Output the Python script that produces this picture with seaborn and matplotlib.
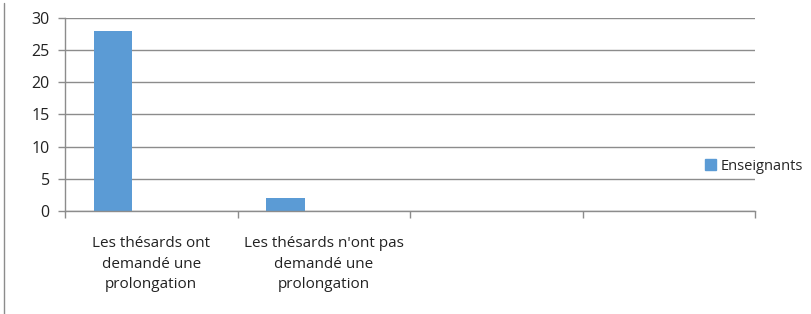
import pandas as pd
import numpy as np
import matplotlib.pyplot as plt
import seaborn as sns

# Données
categories = ["Les thésards ont\ndemandé une\nprolongation",
              "Les thésards n'ont pas\ndemandé une\nprolongation",
              "", " "]
values = [28, 2]
series_name = "Enseignants"
# Excel réserve la place de trois séries, seule la première est remplie
series_slots = [series_name, "_vide1", "_vide2"]

df = pd.DataFrame({
    "categorie": categories[:len(values)],
    "valeur": values,
    "serie": [series_name] * len(values),
})

sns.set_theme(style="white")
plt.rcParams['font.family'] = ['Open Sans', 'DejaVu Sans']

bar_color = "#5B9BD5"
grid_color = "#8C8C8C"

fig = plt.figure(figsize=(8.12, 3.14), dpi=100)
ax = fig.add_axes([0.080, 0.328, 0.850, 0.615])

sns.barplot(data=df, x="categorie", y="valeur", hue="serie",
            order=categories, hue_order=series_slots,
            palette=[bar_color, bar_color, bar_color],
            width=2 / 3, dodge=True, saturation=1, linewidth=0,
            legend=False, ax=ax)

ax.set_xlim(-0.5, len(categories) - 0.5)
ax.set_ylim(0, 30)
ax.set_yticks(np.arange(0, 31, 5))
ax.yaxis.grid(True, color=grid_color, linewidth=1)
ax.set_axisbelow(True)
ax.set_xlabel("")
ax.set_ylabel("")

for side in ["top", "right"]:
    ax.spines[side].set_visible(False)
for side in ["left", "bottom"]:
    ax.spines[side].set_color(grid_color)
    ax.spines[side].set_linewidth(1)

ax.set_xticks(range(len(categories)))
ax.set_xticklabels(categories, fontsize=11, linespacing=1.5)
ax.set_xticks(np.arange(-0.5, len(categories)), minor=True)
ax.tick_params(axis="x", which="major", length=0, pad=18, colors="#222222")
ax.tick_params(axis="x", which="minor", length=5, width=1, color=grid_color,
               bottom=True)
ax.tick_params(axis="y", length=5, width=1, color=grid_color, left=True,
               labelsize=11.5, labelcolor="#222222", pad=6)

handle = plt.Rectangle((0, 0), 1, 1, color=bar_color)
fig.legend([handle], [series_name], loc="center left",
           bbox_to_anchor=(0.868, 0.47), frameon=False, fontsize=10.5,
           handlelength=0.75, handleheight=0.75, handletextpad=0.35,
           borderaxespad=0, borderpad=0)

# bord gauche du cadre du graphique
fig.add_artist(plt.Line2D([0.005, 0.005], [0.0, 0.99], color="#8C8C8C",
                          linewidth=1, transform=fig.transFigure))

fig.savefig("out.png", dpi=100)
